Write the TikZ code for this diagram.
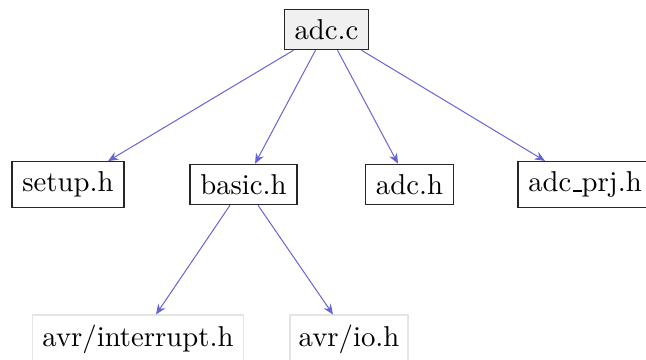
\documentclass[tikz,border=0pt]{standalone}
\usetikzlibrary{arrows.meta,calc}

\definecolor{depblue}{RGB}{102,102,210}
\definecolor{rootfill}{RGB}{240,240,240}
\definecolor{sysline}{RGB}{228,228,228}

% short low rule for the underscore in file names
\newcommand{\fnus}{\kern.06em\vbox{\hrule width.3em}}

\begin{document}
\begin{tikzpicture}[x=0.348pt,y=-0.348pt,
    file/.style={draw=black!85, inner xsep=3.6pt, inner ysep=3.5pt},
    rootfile/.style={file, fill=rootfill},
    sysfile/.style={file, draw=sysline},
    dep/.style={draw=depblue, line width=0.35pt, -{Stealth[length=3.6pt,width=3pt]}}]
    % page frame
    \useasboundingbox (0,0) rectangle (646,360);
    \clip (0,0) rectangle (646,360);

    % source file
    \node[rootfile] (adcc) at (326.5,29.5) {adc.c};

    % included headers
    \node[file] (setup) at (68,184.5) {setup.h};
    \node[file] (basic) at (243.5,184.5) {basic.h};
    \node[file] (adch) at (409.5,184.5) {adc.h};
    \node[file] (prj) at (585,184.5) {adc\fnus prj.h};

    % system headers
    \node[sysfile] (interrupt) at (138,339.5) {avr/interrupt.h};
    \node[sysfile, inner xsep=3pt] (io) at (349,339.5) {avr/io.h};

    % include edges
    \draw[dep] ($(adcc.south)+(-33,0)$) -- ($(setup.north)+(40,0)$);
    \draw[dep] ($(adcc.south)+(-11,0)$) -- ($(basic.north)+(11.5,0)$);
    \draw[dep] ($(adcc.south)+(11,0)$) -- ($(adch.north)+(-11.5,0)$);
    \draw[dep] ($(adcc.south)+(35,0)$) -- ($(prj.north)+(-40,0)$);
    \draw[dep] ($(basic.south)+(-13.5,0)$) -- ($(interrupt.north)+(18,0)$);
    \draw[dep] ($(basic.south)+(14.5,0)$) -- ($(io.north)+(-16,0)$);
\end{tikzpicture}
\end{document}
